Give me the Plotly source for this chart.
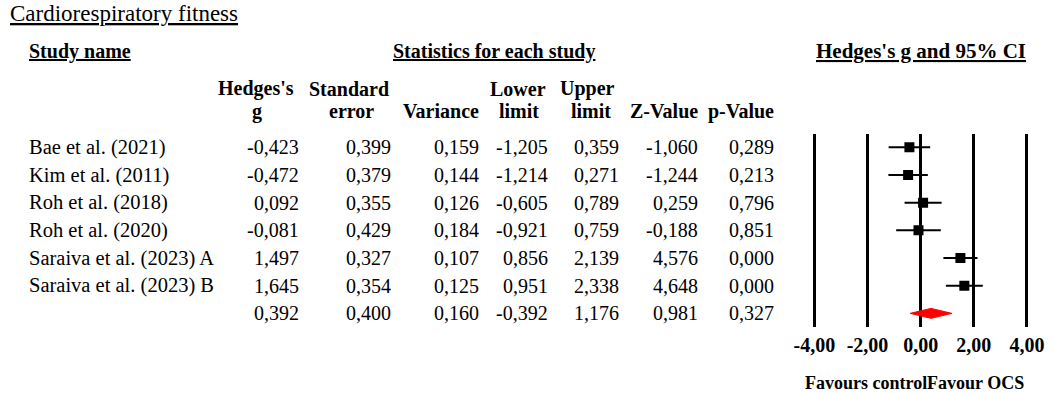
import plotly.graph_objects as go

# ---------------- data ----------------
studies = ["Bae et al. (2021)", "Kim et al. (2011)", "Roh et al. (2018)",
           "Roh et al. (2020)", "Saraiva et al. (2023) A", "Saraiva et al. (2023) B"]
hedges_g = [-0.423, -0.472, 0.092, -0.081, 1.497, 1.645]
std_err = [0.399, 0.379, 0.355, 0.429, 0.327, 0.354]
variance = [0.159, 0.144, 0.126, 0.184, 0.107, 0.125]
lower_limit = [-1.205, -1.214, -0.605, -0.921, 0.856, 0.951]
upper_limit = [0.359, 0.271, 0.789, 0.759, 2.139, 2.338]
z_value = [-1.060, -1.244, 0.259, -0.188, 4.576, 4.648]
p_value = [0.289, 0.213, 0.796, 0.851, 0.000, 0.000]

summary_g = 0.392
summary_se = 0.400
summary_var = 0.160
summary_lower = -0.392
summary_upper = 1.176
summary_z = 0.981
summary_p = 0.327

tick_vals = [-4, -2, 0, 2, 4]
tick_labels = ["-4,00", "-2,00", "0,00", "2,00", "4,00"]

W, H = 1052, 393
SERIF = "Liberation Serif, Times New Roman, serif"
FS = 20


def fmt(v):
    return f"{v:.3f}".replace(".", ",")


def px(x):
    return x / W


def py(y):
    return 1 - y / H


rows = list(range(len(studies)))
summary_row = len(studies)

fig = go.Figure()

# study squares with CI lines
fig.add_trace(go.Scatter(
    x=hedges_g, y=rows, mode="markers",
    marker=dict(symbol="square", size=10, color="black"),
    error_x=dict(type="data", symmetric=False,
                 array=[u - g for u, g in zip(upper_limit, hedges_g)],
                 arrayminus=[g - l for l, g in zip(lower_limit, hedges_g)],
                 color="black", thickness=2, width=0),
    showlegend=False, hoverinfo="skip"))

# summary diamond
dh = 0.18
fig.add_trace(go.Scatter(
    x=[summary_lower, summary_g, summary_upper, summary_g, summary_lower],
    y=[summary_row, summary_row - dh, summary_row, summary_row + dh, summary_row],
    mode="lines", fill="toself", fillcolor="#ff0000",
    line=dict(color="#ff0000", width=1),
    showlegend=False, hoverinfo="skip"))

ann = []


def add(text, x, y, xanchor="center", size=FS, yref="paper", bold=False,
        yanchor="middle"):
    if bold:
        text = f"<b>{text}</b>"
    ann.append(dict(text=text, x=x, y=y, xref="paper", yref=yref,
                    xanchor=xanchor, yanchor=yanchor, showarrow=False,
                    align=xanchor if xanchor != "center" else "center",
                    borderpad=0, borderwidth=0,
                    font=dict(family=SERIF, size=size, color="black")))


# title & group headers
add("<u>Cardiorespiratory fitness</u>", px(3), py(13), xanchor="left", size=23)
add("<u>Study name</u>", px(22), py(51), xanchor="left", bold=True)
add("<u>Statistics for each study</u>", px(492), py(51), bold=True)
add("<u>Hedges's g and 95% CI</u>", px(924), py(51), size=21, bold=True)

# column headers
col_right = [295, 388, 477, 547, 618, 698, 775]
hdr1 = [("Hedges's", 252), ("Standard", 346), ("Lower", 516), ("Upper", 587)]
hdr2 = [("g", 253), ("error", 348), ("Variance", 439), ("limit", 517),
        ("limit", 590), ("Z-Value", 664), ("p-Value", 742)]
for t, x in hdr1:
    add(t, px(x), py(89), bold=True)
for t, x in hdr2:
    add(t, px(x), py(111), bold=True)

# table body
columns = [hedges_g, std_err, variance, lower_limit, upper_limit, z_value, p_value]
summary_vals = [summary_g, summary_se, summary_var, summary_lower,
                summary_upper, summary_z, summary_p]
for i, name in enumerate(studies):
    add(name, px(22), i, xanchor="left", yref="y", size=20.5)
    for col, xr in zip(columns, col_right):
        add(fmt(col[i]), px(xr), i, xanchor="right", yref="y")
for v, xr in zip(summary_vals, col_right):
    add(fmt(v), px(xr), summary_row, xanchor="right", yref="y")

# favours labels
add("Favours control", px(930), 0, xanchor="right", size=18, bold=True,
    yanchor="bottom")
add("Favour OCS", px(930), 0, xanchor="left", size=18, bold=True,
    yanchor="bottom")

fig.update_layout(
    width=W, height=H,
    margin=dict(l=0, r=0, t=0, b=0),
    paper_bgcolor="white", plot_bgcolor="white",
    annotations=ann,
    xaxis=dict(domain=[px(802.5), px(1044.1)], range=[-4.5, 4.5],
               tickvals=tick_vals, ticktext=tick_labels,
               showgrid=True, gridcolor="black", gridwidth=2.5,
               zeroline=False, showline=False, ticks="",
               ticklabelstandoff=4,
               tickfont=dict(family=SERIF, size=FS, color="black", weight="bold"),
               fixedrange=True),
    yaxis=dict(domain=[py(327.2), py(133.5)], range=[summary_row + 0.5, -0.5],
               showgrid=False, zeroline=False, showline=False,
               showticklabels=False, ticks="", fixedrange=True),
)

fig.write_html("out.html",
               config={"displayModeBar": False},
               post_script="document.body.style.margin='0';document.body.style.overflow='hidden';")
